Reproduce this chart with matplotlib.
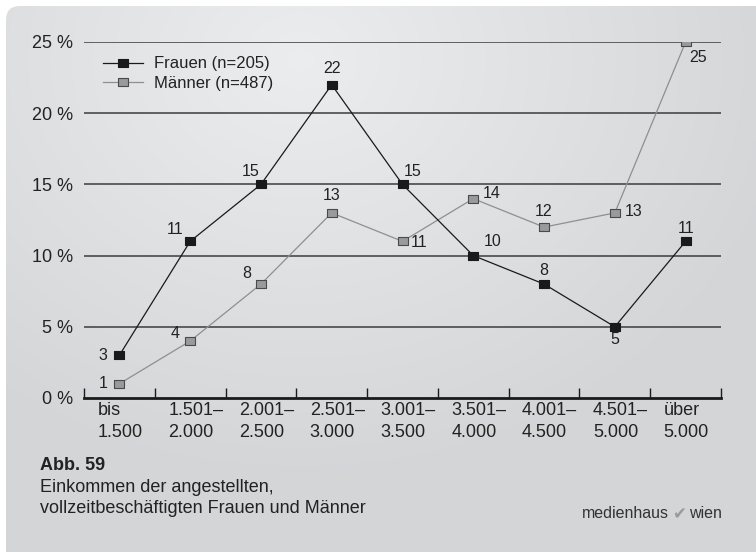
import numpy as np
import matplotlib
matplotlib.use("Agg")
import matplotlib.pyplot as plt
import matplotlib.transforms as mtrans
from matplotlib.patches import FancyBboxPatch

plt.rcParams['font.family'] = ['Liberation Sans', 'DejaVu Sans']

categories = ["bis\n1.500", "1.501–\n2.000", "2.001–\n2.500", "2.501–\n3.000",
              "3.001–\n3.500", "3.501–\n4.000", "4.001–\n4.500", "4.501–\n5.000",
              "über\n5.000"]
frauen = [3, 11, 15, 22, 15, 10, 8, 5, 11]
maenner = [1, 4, 8, 13, 11, 14, 12, 13, 25]
# label offsets in pixels (dx, dy) relative to each point
frauen_off = [(-16, 0), (-15, 12), (-10, 13), (0, 16), (10, 13), (19, 14), (0, 14), (0, -13), (0, 13)]
maenner_off = [(-16, 0), (-15, 8), (-14, 11), (0, 17), (17, -1), (18, 5), (0, 16), (19, 1), (12, -15)]

W, H = 756, 552
fig = plt.figure(figsize=(W / 100, H / 100), dpi=100)
fig.patch.set_facecolor("white")

# background panel with soft gradient
bg = fig.add_axes([0, 0, 1, 1])
bg.set_xlim(0, W)
bg.set_ylim(H, 0)
bg.axis("off")
yy, xx = np.mgrid[0:H, 0:W]
r = np.sqrt(((xx - 300) / 1.2) ** 2 + (yy - 60) ** 2)
t = np.clip(r / 420, 0, 1)
c0 = np.array([0.925, 0.928, 0.933])
c1 = np.array([0.832, 0.836, 0.845])
img = c0[None, None, :] * (1 - t[..., None]) + c1[None, None, :] * t[..., None]
panel = FancyBboxPatch((6, 6), W + 20, H + 20, boxstyle="round,pad=0,rounding_size=14",
                       transform=bg.transData, facecolor="none", edgecolor="none")
bg.add_patch(panel)
im = bg.imshow(img, extent=(0, W, H, 0), aspect="auto")
im.set_clip_path(panel)

ax = fig.add_axes([84 / W, (H - 398) / H, (721 - 84) / W, (398 - 42) / H])
ax.patch.set_alpha(0)
x = np.arange(len(categories))
ax.set_xlim(-0.5, len(categories) - 0.5)
ax.set_ylim(0, 25)

for v in [5, 10, 15, 20, 25]:
    ax.axhline(v, color="#3c3c3c", lw=1.1, zorder=1)

rect = [(-1.35, -1), (1.35, -1), (1.35, 1), (-1.35, 1), (-1.35, -1)]
ax.plot(x, maenner, color="#8f8f8f", lw=0.9, marker=rect, ms=7.4, mfc="#9a9a9a",
        mec="#4a4a4a", mew=0.8, zorder=3, label="Männer (n=487)")
ax.plot(x, frauen, color="#1a1a1a", lw=0.9, marker=rect, ms=7.4, mfc="#1a1a1a",
        mec="#1a1a1a", mew=0.8, zorder=4, label="Frauen (n=205)")

for xi, v, (dx, dy) in zip(x, frauen, frauen_off):
    ax.annotate(str(v), (xi, v), xytext=(dx, dy), textcoords="offset pixels",
                ha="center", va="center", fontsize=11.5, color="#222222")
for xi, v, (dx, dy) in zip(x, maenner, maenner_off):
    ax.annotate(str(v), (xi, v), xytext=(dx, dy), textcoords="offset pixels",
                ha="center", va="center", fontsize=11.5, color="#222222")

for s in ["top", "right", "left"]:
    ax.spines[s].set_visible(False)
ax.spines["bottom"].set_linewidth(2)
ax.spines["bottom"].set_color("#1a1a1a")
ax.spines["bottom"].set_zorder(5)

ax.set_xticks(np.arange(-0.5, len(categories), 1.0))
ax.set_xticklabels([])
ax.tick_params(axis="x", direction="in", length=7, width=1, color="#1a1a1a")
ax.set_xticks(x, minor=True)
ax.set_xticklabels(categories, minor=True, fontsize=13, color="#222222",
                   linespacing=1.35, ha="left")
ax.tick_params(axis="x", which="minor", length=0, pad=3)
offset = mtrans.ScaledTranslation(-22 / 100, 0, fig.dpi_scale_trans)
for lab in ax.get_xticklabels(minor=True):
    lab.set_transform(lab.get_transform() + offset)

ax.set_yticks([0, 5, 10, 15, 20, 25])
ax.set_yticklabels(["0 %", "5 %", "10 %", "15 %", "20 %", "25 %"], fontsize=13, color="#222222")
ax.tick_params(axis="y", length=0, pad=8)

handles, labels = ax.get_legend_handles_labels()
leg = ax.legend(handles[::-1], labels[::-1], loc="upper left", bbox_to_anchor=(0.02, 0.978),
                frameon=False, fontsize=12, handlelength=2.4, handletextpad=0.65,
                labelspacing=0.25, borderaxespad=0)
for t_ in leg.get_texts():
    t_.set_color("#222222")

fig.text(40 / W, 1 - 466 / H, "Abb. 59", fontsize=13, fontweight="bold", color="#222222",
         va="center", ha="left")
fig.text(40 / W, 1 - 498 / H, "Einkommen der angestellten,\nvollzeitbeschäftigten Frauen und Männer",
         fontsize=13, color="#222222", va="center", ha="left", linespacing=1.3)

fig.text(582 / W, 1 - 513 / H, "medienhaus", fontsize=11.5, color="#333333", va="center", ha="left")
fig.text(679 / W, 1 - 514 / H, "✔", fontsize=12, color="#9a9a9a", va="center", ha="center",
         family="DejaVu Sans")
fig.text(689 / W, 1 - 513 / H, "wien", fontsize=11.5, color="#333333", va="center", ha="left")

fig.savefig("out.png", dpi=100)
